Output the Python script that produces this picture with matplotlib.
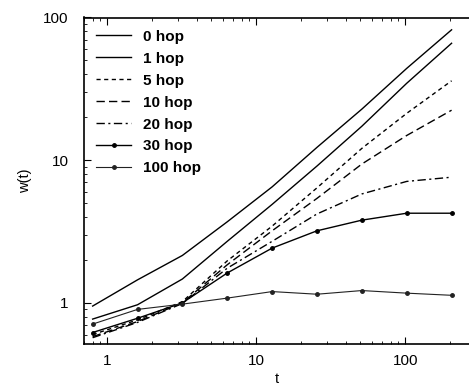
import matplotlib.pyplot as plt
from matplotlib.ticker import LogLocator, NullFormatter, FixedLocator, FixedFormatter

plt.rcParams['font.family'] = ['Liberation Sans', 'DejaVu Sans']

t = [0.8, 1.6, 3.2, 6.4, 12.8, 25.6, 51.2, 102.4, 204.8]

hop0 = [0.95, 1.45, 2.15, 3.7, 6.5, 12.3, 22.8, 44, 82]
hop1 = [0.77, 0.97, 1.47, 2.7, 4.9, 9.1, 17.3, 34.6, 66]
hop5 = [0.60, 0.76, 1.02, 1.97, 3.45, 6.4, 12.1, 21.3, 36]
hop10 = [0.58, 0.74, 1.0, 1.85, 3.2, 5.4, 9.4, 14.9, 22.4]
hop20 = [0.57, 0.73, 0.99, 1.75, 2.7, 4.2, 5.8, 7.1, 7.6]
hop30 = [0.62, 0.78, 1.0, 1.62, 2.42, 3.2, 3.8, 4.25, 4.25]
hop100 = [0.71, 0.90, 0.98, 1.08, 1.2, 1.15, 1.22, 1.17, 1.13]

fig = plt.figure(figsize=(4.69, 3.87), dpi=100)
ax = fig.add_axes([84 / 469, 1 - 344 / 387, 1 - 84 / 469, (344 - 17.5) / 387])

ax.plot(t, hop0, color='black', lw=1.0, label='0 hop')
ax.plot(t, hop1, color='black', lw=1.0, label='1 hop')
ax.plot(t, hop5, color='black', lw=1.0, dashes=(3, 2.5), label='5 hop')
ax.plot(t, hop10, color='black', lw=1.0, dashes=(6, 3), label='10 hop')
ax.plot(t, hop20, color='black', lw=1.0, dashes=(6, 2.5, 1.5, 2.5), label='20 hop')
ax.plot(t, hop30, color='black', lw=1.0, marker='o', ms=2.5, label='30 hop')
ax.plot(t, hop100, color='#222222', lw=0.8, marker='o', ms=2.5, label='100 hop')

ax.set_xscale('log')
ax.set_yscale('log')
ax.set_xlim(0.7, 268)
ax.set_ylim(0.515, 100)

ax.yaxis.set_major_locator(FixedLocator([1, 10, 100]))
ax.yaxis.set_major_formatter(FixedFormatter(['1', '10', '100']))
ax.yaxis.set_minor_locator(LogLocator(base=10, subs=range(2, 10)))
ax.yaxis.set_minor_formatter(NullFormatter())
ax.xaxis.set_major_locator(FixedLocator([1, 10, 100]))
ax.xaxis.set_major_formatter(FixedFormatter(['1', '10', '100']))
ax.xaxis.set_minor_locator(LogLocator(base=10, subs=range(2, 10)))
ax.xaxis.set_minor_formatter(NullFormatter())

ax.tick_params(which='both', direction='in', top=True, right=False, labelsize=11)
ax.tick_params(axis='y', which='major', length=5, pad=11)
ax.tick_params(axis='x', which='major', length=5, pad=7)
ax.tick_params(which='minor', length=2.5)
ax.spines['right'].set_visible(False)
for s in ['left', 'bottom', 'top']:
    ax.spines[s].set_linewidth(1.2)

ax.set_xlabel('t', fontsize=10.5, labelpad=3)
ax.set_ylabel('w(t)', fontsize=10.5, labelpad=8)

leg = ax.legend(loc='upper left', frameon=False, handlelength=2.3,
                labelspacing=0.52, handletextpad=0.75, borderaxespad=0.5,
                borderpad=0.3, prop={'weight': 'bold', 'size': 11})

fig.savefig('out.png', dpi=100)
